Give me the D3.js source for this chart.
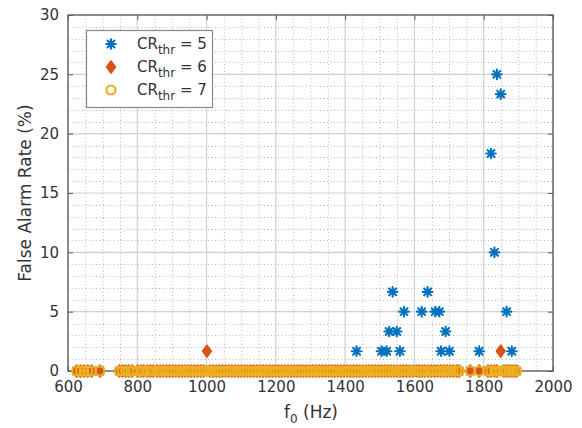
<!DOCTYPE html>
<html>
<head>
<meta charset="utf-8">
<script src="https://cdn.jsdelivr.net/npm/d3@7"></script>
<style>
  html, body { margin: 0; padding: 0; background: #fff; }
  svg { display: block; font-family: "DejaVu Sans", sans-serif; }
</style>
</head>
<body>
<svg id="chart" width="582" height="428"></svg>
<script>
// ---- data ----
const freqs = [625, 636, 646, 657, 668, 692, 748, 757, 766, 775, 785,
  801, 811, 818, 829, 838, 846, 857, 866, 874, 884, 893, 902, 911, 920, 929, 938, 947, 956, 965, 974,
  983, 992, 1001, 1010, 1019, 1028, 1037, 1046, 1055, 1064, 1073, 1082, 1091, 1100, 1109, 1118, 1127,
  1136, 1145, 1154, 1163, 1172, 1181, 1190, 1199, 1208, 1217, 1226, 1235, 1244, 1253, 1262, 1271, 1280,
  1289, 1298, 1307, 1316, 1325, 1334, 1343, 1352, 1361, 1370, 1379, 1388, 1397, 1406, 1415, 1424, 1433,
  1442, 1451, 1460, 1469, 1478, 1487, 1496, 1505, 1514, 1523, 1532, 1541, 1550, 1559, 1568, 1577, 1586,
  1596, 1606, 1614, 1622, 1630, 1640, 1649, 1658, 1667, 1676, 1685, 1694, 1703, 1712, 1722, 1729, 1761,
  1787, 1812, 1821, 1831, 1838, 1849, 1858, 1866, 1874, 1881, 1888, 1895];

// CR_thr = 5 : non-zero false alarm rates (f0, %)
const cr5Freq = [1433, 1505, 1520, 1558, 1527, 1549, 1570, 1537, 1621, 1638, 1660, 1672, 1690, 1677, 1701, 1787, 1881, 1866, 1838, 1849, 1821, 1831];
const cr5Rate = [1.67, 1.67, 1.67, 1.67, 3.33, 3.33, 5, 6.67, 5, 6.67, 5, 5, 3.33, 1.67, 1.67, 1.67, 1.67, 5, 25, 23.33, 18.33, 10];
// CR_thr = 6 : non-zero false alarm rates
const cr6Freq = [1001, 1849];
const cr6Rate = [1.67, 1.67];
// CR_thr = 7 : all zero

const xTicks = [600, 800, 1000, 1200, 1400, 1600, 1800, 2000];
const yTicks = [0, 5, 10, 15, 20, 25, 30];
const legendLabels = ["5", "6", "7"];

// build series tables
function buildSeries(hf, hr) {
  const m = new Map(hf.map((f, i) => [f, hr[i]]));
  const pts = freqs.map(f => ({ f, r: m.has(f) ? m.get(f) : 0 }));
  hf.forEach((f, i) => { if (!freqs.includes(f)) pts.push({ f, r: hr[i] }); });
  return pts;
}
const s5 = buildSeries(cr5Freq, cr5Rate);
const s6 = buildSeries(cr6Freq, cr6Rate);
const s7 = freqs.map(f => ({ f, r: 0 }));

// ---- layout ----
const L = 68, R = 553, T = 15, B = 371;
const svg = d3.select("#chart");
const x = d3.scaleLinear().domain([600, 2000]).range([L, R]);
const y = d3.scaleLinear().domain([0, 30]).range([B, T]);

const C5 = "#0072BD", C6 = "#D95319", C7 = "#EDB120";
const axisCol = "#5a5a5a", textCol = "#333333";

// grid: minor
const g = svg.append("g");
const xMinor = d3.range(600, 2001, 50).filter(v => v % 200 !== 0);
const yMinor = d3.range(0, 31, 1).filter(v => v % 5 !== 0);
g.selectAll(".xm").data(xMinor).join("line")
  .attr("x1", d => x(d) + 0.5).attr("x2", d => x(d) + 0.5).attr("y1", T).attr("y2", B)
  .attr("stroke", "#b8b8b8").attr("stroke-width", 1).attr("stroke-dasharray", "1,2.5");
g.selectAll(".ym").data(yMinor).join("line")
  .attr("y1", d => Math.round(y(d)) + 0.5).attr("y2", d => Math.round(y(d)) + 0.5).attr("x1", L).attr("x2", R)
  .attr("stroke", "#b8b8b8").attr("stroke-width", 1).attr("stroke-dasharray", "1,2.5");
// grid: major
g.selectAll(".xM").data(xTicks).join("line")
  .attr("x1", d => x(d)).attr("x2", d => x(d)).attr("y1", T).attr("y2", B)
  .attr("stroke", "#d0d0d0").attr("stroke-width", 1.2);
g.selectAll(".yM").data(yTicks).join("line")
  .attr("y1", d => y(d)).attr("y2", d => y(d)).attr("x1", L).attr("x2", R)
  .attr("stroke", "#d0d0d0").attr("stroke-width", 1.2);

// axes with inward ticks
const tl = 5;
const xAxB = d3.axisBottom(x).tickValues(xTicks).tickSize(-tl).tickPadding(10).tickFormat(d3.format("d"));
const xAxT = d3.axisTop(x).tickValues(xTicks).tickSize(-tl).tickFormat("");
const yAxL = d3.axisLeft(y).tickValues(yTicks).tickSize(-tl).tickPadding(9).tickFormat(d3.format("d"));
const yAxR = d3.axisRight(y).tickValues(yTicks).tickSize(-tl).tickFormat("");
function style(sel) {
  sel.select(".domain").remove();
  sel.selectAll(".tick line").attr("stroke", axisCol);
  sel.selectAll(".tick text").attr("fill", textCol).style("font-size", "15px").style("font-family", "DejaVu Sans");
}
svg.append("g").attr("transform", `translate(0,${B})`).call(xAxB).call(style);
svg.append("g").attr("transform", `translate(0,${T})`).call(xAxT).call(style);
svg.append("g").attr("transform", `translate(${L},0)`).call(yAxL).call(style);
svg.append("g").attr("transform", `translate(${R},0)`).call(yAxR).call(style);
svg.append("rect").attr("x", L).attr("y", T).attr("width", R - L).attr("height", B - T)
  .attr("fill", "none").attr("stroke", axisCol).attr("stroke-width", 1.3);

// markers
function asterisk(sel) {
  const r = 4.8, d = r * 0.72;
  sel.append("path").attr("d", `M${-r},0L${r},0M0,${-r}L0,${r}M${-d},${-d}L${d},${d}M${-d},${d}L${d},${-d}`)
    .attr("stroke", C5).attr("stroke-width", 2.1).attr("fill", "none").attr("stroke-linecap", "round");
}
function diamond(sel) {
  sel.append("path").attr("d", "M0,-5.5L4,0L0,5.5L-4,0Z")
    .attr("fill", C6).attr("stroke", C6).attr("stroke-width", 2.2).attr("stroke-linejoin", "round");
}
const plot = svg.append("g");
plot.selectAll(".s5").data(s5).join("g")
  .attr("transform", d => `translate(${x(d.f)},${y(d.r)})`).call(asterisk);
plot.selectAll(".s6").data(s6).join("g")
  .attr("transform", d => `translate(${x(d.f)},${y(d.r)})`).call(diamond);
plot.selectAll(".s7").data(s7).join("circle")
  .attr("cx", d => x(d.f)).attr("cy", d => y(d.r)).attr("r", 4.5)
  .attr("fill", "none").attr("stroke", C7).attr("stroke-width", 2.2);

// axis labels
const xl = svg.append("text").attr("x", 311).attr("y", 418).attr("text-anchor", "middle")
  .attr("fill", textCol).style("font-size", "17px");
xl.append("tspan").text("f");
xl.append("tspan").attr("dy", 5).style("font-size", "12px").text("0");
xl.append("tspan").attr("dy", -5).text(" (Hz)");
svg.append("text").attr("transform", "translate(31,193) rotate(-90)").attr("text-anchor", "middle")
  .attr("fill", textCol).style("font-size", "17px").text("False Alarm Rate (%)");

// legend
const lg = svg.append("g");
lg.append("rect").attr("x", 86.5).attr("y", 30.5).attr("width", 126).attr("height", 77)
  .attr("fill", "#fff").attr("stroke", "#888").attr("stroke-width", 1.2);
const ly = [44, 67, 90];
const markerFns = [asterisk, diamond, s => s.append("circle").attr("r", 4.5).attr("fill", "none").attr("stroke", C7).attr("stroke-width", 2.2)];
legendLabels.forEach((lab, i) => {
  lg.append("g").attr("transform", `translate(111,${ly[i]})`).call(markerFns[i]);
  const t = lg.append("text").attr("x", 137).attr("y", ly[i] + 5).attr("fill", textCol).style("font-size", "15px");
  t.append("tspan").text("CR");
  t.append("tspan").attr("dy", 5).style("font-size", "12px").text("thr");
  t.append("tspan").attr("dy", -5).text(" = " + lab);
});
</script>
</body>
</html>
